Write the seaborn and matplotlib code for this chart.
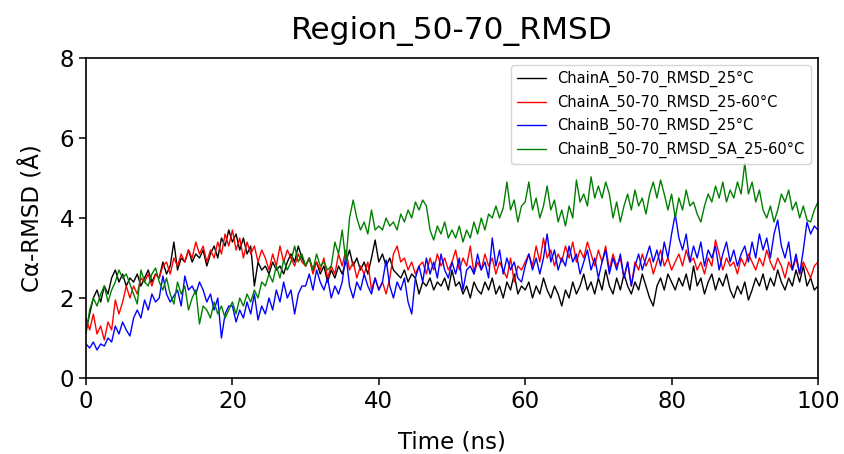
import numpy as np
import pandas as pd
import matplotlib
matplotlib.use("Agg")
import matplotlib.pyplot as plt
import seaborn as sns

# time axis (ns), one frame every 0.5 ns
time_ns = np.linspace(0, 100, 201)

series_names = [
    "ChainA_50-70_RMSD_25°C",
    "ChainA_50-70_RMSD_25-60°C",
    "ChainB_50-70_RMSD_25°C",
    "ChainB_50-70_RMSD_SA_25-60°C",
]
series_colors = ["black", "red", "blue", "green"]

chainA_25 = [
    1.2, 1.6, 2.0, 2.2, 1.9, 2.3, 2.1, 2.5, 2.7, 2.4, 2.6, 2.3, 2.5, 2.4, 2.6, 2.3, 2.5, 2.7, 2.4, 2.6,
    2.5, 2.9, 2.6, 2.8, 3.4, 2.7, 3.0, 2.9, 3.2, 2.9, 3.1, 3.0, 3.2, 2.8, 3.1, 3.3, 3.0, 3.5, 3.3, 3.7,
    3.4, 3.6, 3.2, 3.5, 3.1, 3.3, 2.3, 2.9, 2.7, 2.8, 2.6, 2.9, 2.7, 2.8, 2.6, 2.9, 3.1, 2.9, 3.3, 3.0,
    2.8, 3.0, 2.7, 2.9, 2.6, 2.8, 2.4, 2.7, 2.5, 2.8, 2.6, 2.9, 3.2, 2.8, 3.0, 2.7, 2.9, 2.6, 3.0, 3.45,
    2.9, 3.1, 2.8, 3.0, 2.7, 2.6, 2.5, 2.7, 2.4, 2.6, 2.5, 2.1, 2.4, 2.3, 2.5, 2.2, 2.4, 2.3, 2.5, 2.2,
    2.7, 2.3, 2.4, 2.1, 2.3, 2.0, 2.4, 2.2, 2.1, 2.4, 2.2, 2.5, 2.1, 2.3, 2.0, 2.4, 2.2, 2.6, 2.1, 2.3,
    2.2, 2.4, 2.0, 2.3, 2.1, 2.5, 2.2, 2.0, 2.3, 2.1, 1.8, 2.2, 2.0, 2.4, 2.1, 2.3, 2.6, 2.2, 2.4, 2.1,
    2.5, 2.2, 2.7, 2.3, 2.1, 2.5, 2.2, 2.6, 2.3, 2.1, 2.4, 2.2, 2.6, 2.3, 2.0, 1.8, 2.3, 2.5, 2.2, 2.6,
    2.4, 2.2, 2.5, 2.3, 2.6, 2.2, 2.8, 2.3, 2.5, 2.1, 2.4, 2.6, 2.2, 2.5, 2.3, 2.6, 2.2, 2.0, 2.3, 2.1,
    2.4, 1.95, 2.2, 2.5, 2.3, 2.6, 2.2, 2.5, 2.3, 2.7, 2.4, 2.2, 2.5, 2.3, 2.7, 2.4, 2.8, 2.3, 2.5, 2.2,
    2.3,
]

chainA_25_60 = [
    1.5, 1.2, 1.6, 1.1, 1.3, 0.95, 1.4, 1.2, 1.95, 1.6, 1.9, 2.3, 2.0, 2.3, 2.1, 2.5, 2.4, 2.6, 2.3, 2.6,
    2.5, 2.8, 2.9, 2.6, 3.0, 2.8, 3.1, 2.9, 3.2, 3.0, 3.4, 3.1, 3.3, 2.9, 3.2, 3.0, 3.4, 3.1, 3.6, 3.3,
    3.7, 3.2, 3.5, 3.0, 3.4, 3.1, 3.3, 2.9, 3.2, 3.0, 2.7, 3.1, 2.8, 3.3, 2.9, 3.2, 3.0, 2.8, 3.1, 2.9,
    2.8, 3.0, 2.6, 2.9, 2.7, 3.0, 2.5, 2.8, 2.6, 3.1, 2.8, 3.2, 2.7, 2.9, 2.5, 2.8, 2.6, 2.9, 2.2, 2.5,
    2.2, 2.4, 2.1, 2.5, 3.1, 3.3, 2.9, 3.0, 2.7, 2.9, 2.6, 2.8, 2.9, 2.6, 3.0, 2.7, 3.1, 2.8, 3.0, 2.7,
    2.9, 3.2, 2.7, 3.0, 2.8, 3.3, 2.6, 2.9, 2.7, 3.1, 2.8, 3.0, 2.6, 2.9, 2.7, 2.5, 3.0, 2.4, 2.8, 2.7,
    2.9, 3.1, 2.8, 3.3, 2.9, 3.5, 3.0, 3.2, 2.8, 3.1, 2.9, 3.3, 3.0, 3.4, 2.9, 3.2, 3.0, 3.4, 3.1, 2.8,
    3.2, 2.9, 3.3, 2.7, 3.1, 2.8, 3.0, 2.5, 2.9, 2.3, 2.9, 2.7, 3.1, 2.8, 3.0, 2.6, 2.9, 3.2, 2.8, 3.0,
    2.7, 2.9, 3.1, 2.8, 3.2, 2.9, 3.0, 2.7, 2.9, 2.6, 3.0, 2.8, 3.45, 3.1, 2.7, 3.0, 2.8, 2.9, 2.6, 3.0,
    2.8, 3.1, 2.9, 2.7, 3.0, 2.8, 3.2, 2.9, 2.7, 3.0, 2.8, 2.5, 2.9, 2.7, 3.0, 2.6, 2.9, 2.7, 2.5, 2.8,
    2.9,
]

chainB_25 = [
    0.85, 0.75, 0.9, 0.7, 0.85, 0.8, 1.0, 0.9, 1.3, 1.1, 1.4, 1.2, 1.05, 1.5, 1.7, 1.5, 1.95, 1.7, 2.1, 1.9,
    2.0, 2.55, 2.1, 1.9, 2.05, 2.2, 1.8, 2.55, 2.2, 2.3, 2.1, 2.4, 2.2, 1.9, 2.1, 1.7, 2.0, 1.0, 1.6, 1.8,
    1.8, 1.4, 1.7, 1.5, 1.9, 1.6, 2.1, 1.45, 1.8, 1.6, 2.0, 1.7, 2.2, 1.9, 2.4, 2.0, 2.2, 1.6, 2.1, 2.3,
    2.3, 2.6, 2.2, 2.7, 2.4, 2.2, 2.5, 2.0, 2.3, 2.1, 2.4, 3.1, 2.3, 2.0, 2.4, 2.2, 2.6, 2.3, 2.1, 2.5,
    2.2, 2.4, 2.95, 2.3, 2.0, 2.4, 2.2, 2.5, 1.9, 1.6, 2.5, 2.8, 2.4, 3.0, 2.6, 2.9, 2.5, 3.1, 2.7, 2.5,
    2.9, 2.6, 3.0, 2.2, 2.7, 2.8, 2.6, 3.1, 2.7, 2.9, 2.5, 3.5, 2.8, 3.2, 2.6, 3.0, 2.7, 2.9, 2.5, 2.4,
    2.8, 3.1, 2.7, 3.0, 2.6, 3.0, 3.6, 2.9, 3.2, 2.7, 3.0, 2.8, 3.3, 2.9, 3.1, 2.6, 2.9, 3.2, 2.7, 3.0,
    2.5, 2.9, 3.2, 2.6, 3.0, 2.7, 3.1, 2.5, 2.9, 2.3, 2.8, 3.1, 2.7, 3.0, 3.3, 2.9, 3.2, 2.8, 3.4, 3.0,
    3.6, 4.1, 3.5, 3.2, 3.6, 2.9, 3.3, 3.0, 3.4, 2.8, 3.2, 3.0, 3.3, 2.7, 3.1, 3.4, 2.9, 3.2, 2.8, 3.1,
    3.3, 2.9, 3.4, 3.0, 3.6, 3.2, 3.5, 3.0, 3.6, 3.95, 3.3, 3.0, 3.4, 2.7, 3.1, 2.6, 3.2, 3.9, 3.6, 3.8,
    3.7,
]

chainB_SA_25_60 = [
    1.1, 1.7, 2.0, 1.8, 2.1, 2.3, 1.9, 2.2, 2.4, 2.7, 2.5, 2.6, 2.35, 2.1, 1.85, 2.7, 2.4, 2.3, 2.6, 2.75,
    2.4, 2.2, 2.5, 2.1, 1.85, 2.4, 2.1, 2.3, 1.7, 2.0, 2.2, 1.35, 1.8, 1.7, 1.5, 1.9, 1.6, 1.8, 1.5, 1.7,
    1.9, 1.6, 2.0, 1.8, 2.1, 1.9, 2.2, 2.0, 2.4, 2.3, 2.6, 2.4, 2.8, 2.5, 2.95, 2.7, 2.9, 3.3, 2.9, 3.1,
    2.8, 3.0, 2.7, 3.1, 2.8, 2.9, 2.7, 2.8, 3.4, 3.1, 3.7, 2.9, 4.0, 4.45, 4.0, 3.7, 3.9, 3.6, 4.2, 3.7,
    3.8, 3.7, 4.0, 3.8, 3.9, 3.7, 4.1, 3.9, 4.2, 4.0, 4.4, 4.2, 4.45, 4.3, 3.7, 3.45, 3.8, 3.6, 3.9, 3.5,
    3.7, 3.5, 3.8, 3.4, 3.7, 3.5, 3.9, 3.6, 4.0, 3.7, 4.1, 4.0, 4.3, 4.0, 4.25, 4.9, 4.2, 4.45, 3.9, 4.3,
    4.4, 4.9, 4.2, 4.5, 4.0, 4.3, 4.8, 4.2, 4.45, 3.9, 4.2, 3.8, 4.3, 4.0, 4.95, 4.4, 4.6, 4.3, 5.03, 4.5,
    4.8, 4.5, 4.9, 4.6, 4.0, 4.4, 3.9, 4.3, 4.6, 4.2, 4.7, 4.3, 4.5, 4.1, 4.6, 4.9, 4.5, 4.95, 4.6, 4.2,
    4.6, 4.0, 4.5, 4.2, 4.7, 4.3, 4.4, 4.1, 3.9, 4.3, 4.6, 4.4, 4.8, 4.5, 4.9, 4.4, 4.7, 4.5, 4.9, 4.6,
    5.37, 4.6, 4.9, 4.4, 4.7, 4.2, 4.0, 4.3, 3.9, 4.2, 4.6, 4.4, 4.7, 4.2, 4.4, 4.0, 4.3, 3.95, 3.9, 4.2,
    4.4,
]

# long-form table for seaborn
frames = []
for name, vals in zip(series_names, [chainA_25, chainA_25_60, chainB_25, chainB_SA_25_60]):
    frames.append(pd.DataFrame({"time": time_ns, "rmsd": vals, "run": name}))
df = pd.concat(frames, ignore_index=True)

sns.set_style("ticks")
plt.rcParams["font.family"] = ["DejaVu Sans"]
plt.rcParams["text.color"] = "black"
plt.rcParams["axes.labelcolor"] = "black"
plt.rcParams["xtick.color"] = "black"
plt.rcParams["ytick.color"] = "black"

fig = plt.figure(figsize=(8.45, 4.54), dpi=100)
ax = fig.add_axes([0.1018, 0.1674, 0.8662, 0.7048])

sns.lineplot(data=df, x="time", y="rmsd", hue="run", hue_order=series_names,
             palette=series_colors, estimator=None, linewidth=1.0, ax=ax)

ax.set_xlim(0, 100)
ax.set_ylim(0, 8)
ax.set_xticks([0, 20, 40, 60, 80, 100])
ax.set_yticks([0, 2, 4, 6, 8])
ax.tick_params(labelsize=16.5, length=5, width=1.1, direction="out")
for s in ax.spines.values():
    s.set_linewidth(1.2)
    s.set_color("black")

ax.set_xlabel("Time (ns)", fontsize=16.5, labelpad=13)
ax.set_ylabel("Cα-RMSD (Å)", fontsize=16.5, labelpad=11)
ax.set_title("Region_50-70_RMSD", fontsize=22.5, pad=14)

sns.move_legend(ax, "upper right", title=None, fontsize=10.5, frameon=True,
                handlelength=2.0, labelspacing=0.5, borderpad=0.4)

plt.savefig("out.png", dpi=100)
